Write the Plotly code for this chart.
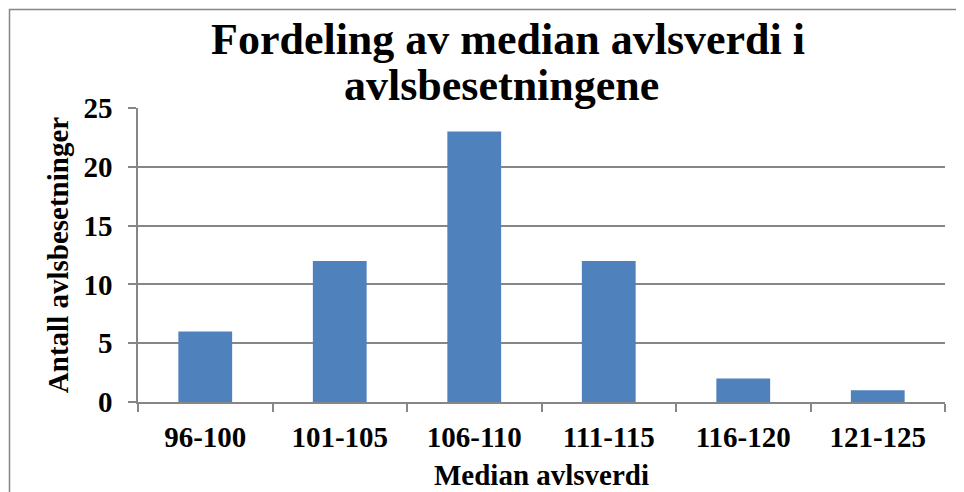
import plotly.graph_objects as go

categories = ["96-100", "101-105", "106-110", "111-115", "116-120", "121-125"]
values = [6, 12, 23, 12, 2, 1]
y_ticks = [0, 5, 10, 15, 20, 25]
title_lines = ["Fordeling av median avlsverdi i", "avlsbesetningene"]
x_title = "Median avlsverdi"
y_title = "Antall avlsbesetninger"

# page body margin shifts the figure by 8px; compensate
OFF = 8
W, H = 964, 492
L, T = 138 - OFF, 108 - OFF
R = W - (945 - OFF)
B = H - (402 - OFF)
pw, ph = W - L - R, H - T - B

def px_x(sx):
    return (sx - OFF - L) / pw

def px_y(sy):
    return (H - B - (sy - OFF)) / ph

FONT = "Liberation Serif, Times New Roman, serif"
GRAY = "#868686"

fig = go.Figure(go.Bar(x=categories, y=values, marker=dict(color="#4F81BD", line=dict(width=0)),
                       hoverinfo="x+y"))

fig.update_layout(
    width=W, height=H,
    margin=dict(l=L, r=R, t=T, b=B, autoexpand=False),
    paper_bgcolor="white", plot_bgcolor="white",
    bargap=0.6,
    showlegend=False,
    font=dict(family=FONT, color="black", size=29),
)
fig.update_xaxes(
    type="category", tickson="boundaries", ticks="outside", ticklen=8, tickcolor=GRAY, tickwidth=1.5,
    showline=True, linecolor=GRAY, linewidth=1.5, showgrid=False,
    tickfont=dict(family=FONT, size=29, color="black", weight="bold"),
    ticklabelstandoff=8,
    title=dict(text="<b>" + x_title + "</b>", font=dict(family=FONT, size=29, color="black"), standoff=13),
    automargin=False,
)
fig.update_yaxes(
    range=[0, 25], tickvals=y_ticks, ticks="outside", ticklen=8, tickcolor=GRAY, tickwidth=1.5,
    showline=True, linecolor=GRAY, linewidth=1.5, showgrid=True, gridcolor=GRAY, gridwidth=1.5,
    zeroline=False,
    tickfont=dict(family=FONT, size=29, color="black", weight="bold"),
    ticklabelstandoff=10,
    title=dict(text="<b>" + y_title + "</b>", font=dict(family=FONT, size=29, color="black"), standoff=6),
    automargin=False,
)

fig.add_annotation(text="<b>" + title_lines[0] + "</b>", xref="paper", yref="paper",
                   x=px_x(508), y=px_y(40), xanchor="center", yanchor="middle", showarrow=False,
                   font=dict(family=FONT, size=44, color="black"))
fig.add_annotation(text="<b>" + title_lines[1] + "</b>", xref="paper", yref="paper",
                   x=px_x(501), y=px_y(86), xanchor="center", yanchor="middle", showarrow=False,
                   font=dict(family=FONT, size=44, color="black"))

fig.add_shape(type="rect", xref="paper", yref="paper",
              x0=px_x(9.5), x1=px_x(1000), y0=px_y(540), y1=px_y(9.5),
              line=dict(color=GRAY, width=1.5), fillcolor="rgba(0,0,0,0)", layer="below")

fig.write_html("out.html")
